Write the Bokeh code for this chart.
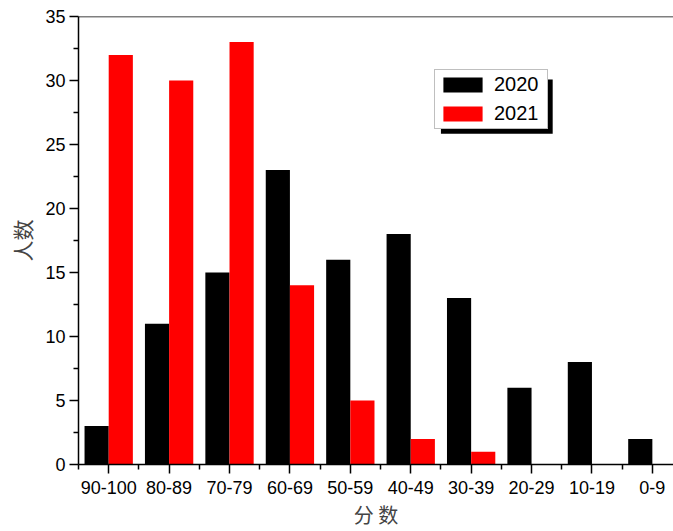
from bokeh.plotting import figure
from bokeh.models import (Range1d, FixedTicker, Legend, LegendItem, BoxAnnotation,
                          Span, ColumnDataSource)
from bokeh.transform import dodge
from bokeh.embed import file_html
from bokeh.resources import INLINE

categories = ["90-100", "80-89", "70-79", "60-69", "50-59",
              "40-49", "30-39", "20-29", "10-19", "0-9"]
counts_2020 = [3, 11, 15, 23, 16, 18, 13, 6, 8, 2]
counts_2021 = [32, 30, 33, 14, 5, 2, 1, 0, 0, 0]
series_names = ["2020", "2021"]
y_ticks = [0, 5, 10, 15, 20, 25, 30, 35]
y_minor = [2.5, 7.5, 12.5, 17.5, 22.5, 27.5, 32.5]

pos = list(range(len(categories)))
source = ColumnDataSource(dict(x=pos, c2020=counts_2020, c2021=counts_2021))

p = figure(width=673, height=531, output_backend="svg", toolbar_location=None,
           x_range=Range1d(-0.5, 9.35), y_range=Range1d(0, 35),
           min_border_left=78, min_border_right=0, min_border_top=16,
           min_border_bottom=10)
p.outline_line_color = None
p.grid.visible = False
p.background_fill_color = "white"

r1 = p.vbar(x=dodge("x", -0.2), top="c2020", width=0.4, bottom=0,
            source=source, fill_color="black", line_color=None)
r2 = p.vbar(x=dodge("x", 0.2), top="c2021", width=0.4, bottom=0,
            source=source, fill_color="#ff0000", line_color=None)

# top border line
p.add_layout(Span(location=35, dimension="width", line_color="black", line_width=1.5))

# X axis
xa = p.xaxis[0]
xa.ticker = FixedTicker(ticks=pos, minor_ticks=[i - 0.5 for i in range(len(categories) + 1)])
xa.major_label_overrides = {i: c for i, c in enumerate(categories)}
xa.axis_label = "分 数"
xa.axis_label_text_font = "Noto Sans CJK SC"
xa.axis_label_text_font_style = "normal"
xa.axis_label_text_font_size = "20px"
xa.axis_label_standoff = 3
xa.major_label_text_font = "Liberation Sans"
xa.major_label_text_font_size = "18px"
xa.major_label_text_color = "black"
xa.major_label_standoff = 7
xa.major_tick_out = 9
xa.major_tick_in = 0
xa.minor_tick_out = 5
xa.minor_tick_in = 0
xa.axis_line_width = 1.5
xa.major_tick_line_width = 1.5
xa.minor_tick_line_width = 1.5

# Y axis
ya = p.yaxis[0]
ya.ticker = FixedTicker(ticks=y_ticks, minor_ticks=y_minor)
ya.axis_label = "人数"
ya.axis_label_text_font = "Noto Sans CJK SC"
ya.axis_label_text_font_style = "normal"
ya.axis_label_text_font_size = "21px"
ya.axis_label_standoff = 5
ya.major_label_text_font = "Liberation Sans"
ya.major_label_text_font_size = "18px"
ya.major_label_text_color = "black"
ya.major_label_standoff = 4
ya.major_tick_out = 9
ya.major_tick_in = 0
ya.minor_tick_out = 5
ya.minor_tick_in = 0
ya.axis_line_width = 1.5
ya.major_tick_line_width = 1.5
ya.minor_tick_line_width = 1.5

# legend shadow
p.add_layout(BoxAnnotation(left=5.50, right=7.35, top=30.07, bottom=25.84,
                           fill_color="black", fill_alpha=1.0, line_color=None,
                           level="annotation"))

legend = Legend(items=[LegendItem(label=series_names[0], renderers=[r1]),
                       LegendItem(label=series_names[1], renderers=[r2])],
                location=(356, 335))
legend.border_line_color = "#808080"
legend.border_line_width = 1
legend.background_fill_color = "white"
legend.background_fill_alpha = 1.0
legend.padding = 3
legend.spacing = 6
legend.glyph_width = 49
legend.glyph_height = 19
legend.label_standoff = 7
legend.label_width = 50
legend.label_text_font = "Liberation Sans"
legend.label_text_font_size = "20px"
legend.label_text_color = "black"
legend.margin = 0
p.add_layout(legend)

open("out.html", "w").write(file_html(p, INLINE))
